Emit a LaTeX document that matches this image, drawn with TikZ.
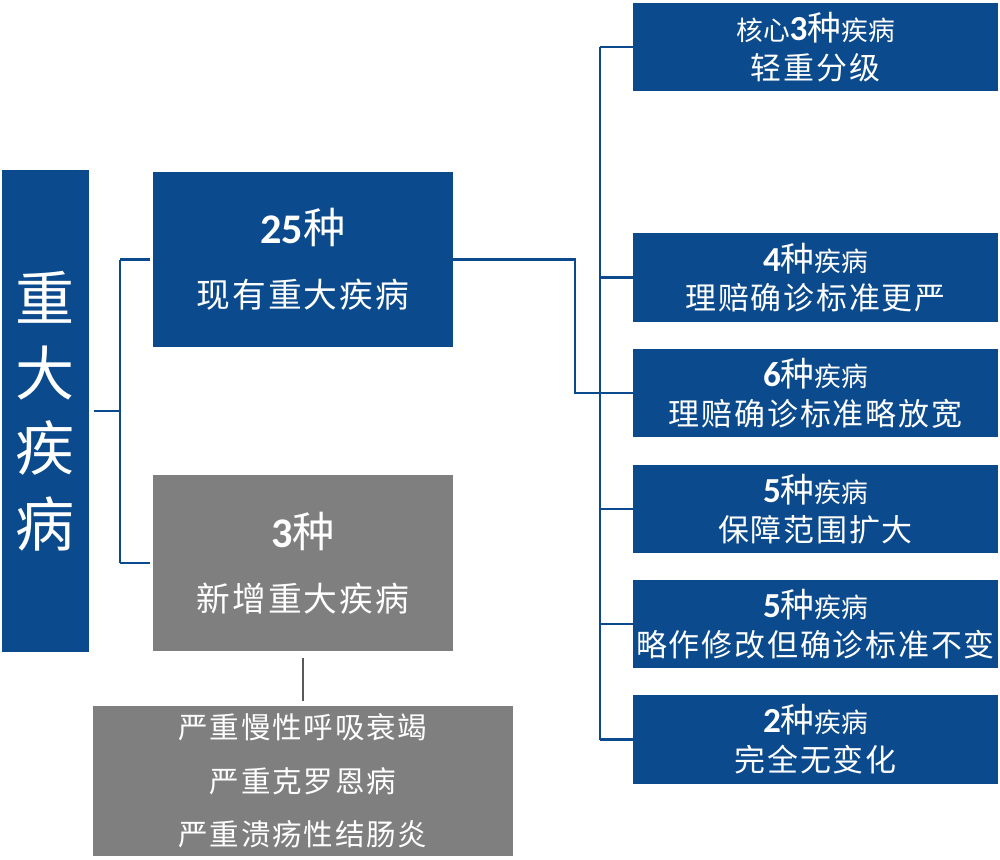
\documentclass[tikz,border=0pt]{standalone}
\usepackage{fontspec}
\setmainfont{Carlito}
\newfontfamily\cjk{Noto Sans CJK SC}
\newfontfamily\cjkwide[LetterSpace=6]{Noto Sans CJK SC}
\usetikzlibrary{positioning}

\definecolor{ciblue}{HTML}{0B4A8C}
\definecolor{cigray}{HTML}{7F7F7F}
\definecolor{cilink}{HTML}{595959}

% one right hand box: number, then the change
\newcommand\kindtext[2]{{\fontsize{25}{25}\selectfont\bfseries #1}{\cjk\fontsize{24}{24}\selectfont 种}{\cjk\fontsize{19}{19}\selectfont 疾病}\\[6pt]{\cjkwide\fontsize{22}{22}\selectfont #2}}

\begin{document}
\begin{tikzpicture}[x=0.025cm, y=-0.025cm,
		box/.style={inner sep=0pt, align=center, text=white},
		bluebox/.style={box, fill=ciblue},
		graybox/.style={box, fill=cigray},
		kindbox/.style={bluebox, minimum width=9.125cm, minimum height=2.2cm},
		link/.style={draw=ciblue, line width=2.1pt},
		graylink/.style={draw=cilink, line width=1.6pt}
		]
	\useasboundingbox (0,0) rectangle (1000,860);

	% left column
	\node [bluebox, minimum width=2.175cm, minimum height=12.05cm,
		font=\cjk\fontsize{42}{53.5}\selectfont] (major) at (45.5,411) {重\\大\\疾\\病};
	\node [bluebox, minimum width=7.5cm, minimum height=4.375cm] (old) at (303,259.5)
		{{\fontsize{30}{30}\selectfont\bfseries 25}{\cjk\fontsize{30}{30}\selectfont 种}\\[22pt]{\cjkwide\fontsize{24}{24}\selectfont 现有重大疾病}};
	\node [graybox, minimum width=7.5cm, minimum height=4.4cm] (new) at (303,563)
		{{\fontsize{30}{30}\selectfont\bfseries 3}{\cjk\fontsize{30}{30}\selectfont 种}\\[22pt]{\cjkwide\fontsize{24}{24}\selectfont 新增重大疾病}};
	\node [graybox, minimum width=10.5cm, minimum height=3.75cm,
		font=\cjkwide\fontsize{21}{38}\selectfont] (list) at (303,781)
		{严重慢性呼吸衰竭\\严重克罗恩病\\严重溃疡性结肠炎};

	% right column
	\node [kindbox] (k1) at (815.5,47)
		{{\cjk\fontsize{19}{19}\selectfont 核心}{\fontsize{25}{25}\selectfont\bfseries 3}{\cjk\fontsize{24}{24}\selectfont 种}{\cjk\fontsize{19}{19}\selectfont 疾病}\\[6pt]{\cjkwide\fontsize{22}{22}\selectfont 轻重分级}};
	\node [kindbox] (k2) at (815.5,277.5) {\kindtext{4}{理赔确诊标准更严}};
	\node [kindbox] (k3) at (815.5,393) {\kindtext{6}{理赔确诊标准略放宽}};
	\node [kindbox] (k4) at (815.5,509) {\kindtext{5}{保障范围扩大}};
	\node [kindbox] (k5) at (815.5,624) {\kindtext{5}{略作修改但确诊标准不变}};
	\node [kindbox] (k6) at (815.5,739.5) {\kindtext{2}{完全无变化}};

	% connectors
	\coordinate (lbus) at (120,411);
	\coordinate (mbus) at (575,262);
	\coordinate (rbus) at (600,47);
	\draw [link] ([xshift=3pt]major.east) -- (lbus);
	\draw [link] (old.west -| lbus) -- (new.west -| lbus);
	\draw [link] (old.west -| lbus) -- ([xshift=-2pt]old.west);
	\draw [link] (new.west -| lbus) -- ([xshift=-2pt]new.west);
	\draw [link] (old.east) -- (old.east -| mbus) |- (k3.west);
	\draw [link] (k1.west -| rbus) -- (k6.west -| rbus);
	\foreach \k in {k1,k2,k3,k4,k5,k6}
		\draw [link] (\k.west -| rbus) -- (\k.west);
	\draw [graylink] ([yshift=-5pt]new.south) -- ([yshift=3pt]list.north);
\end{tikzpicture}
\end{document}
